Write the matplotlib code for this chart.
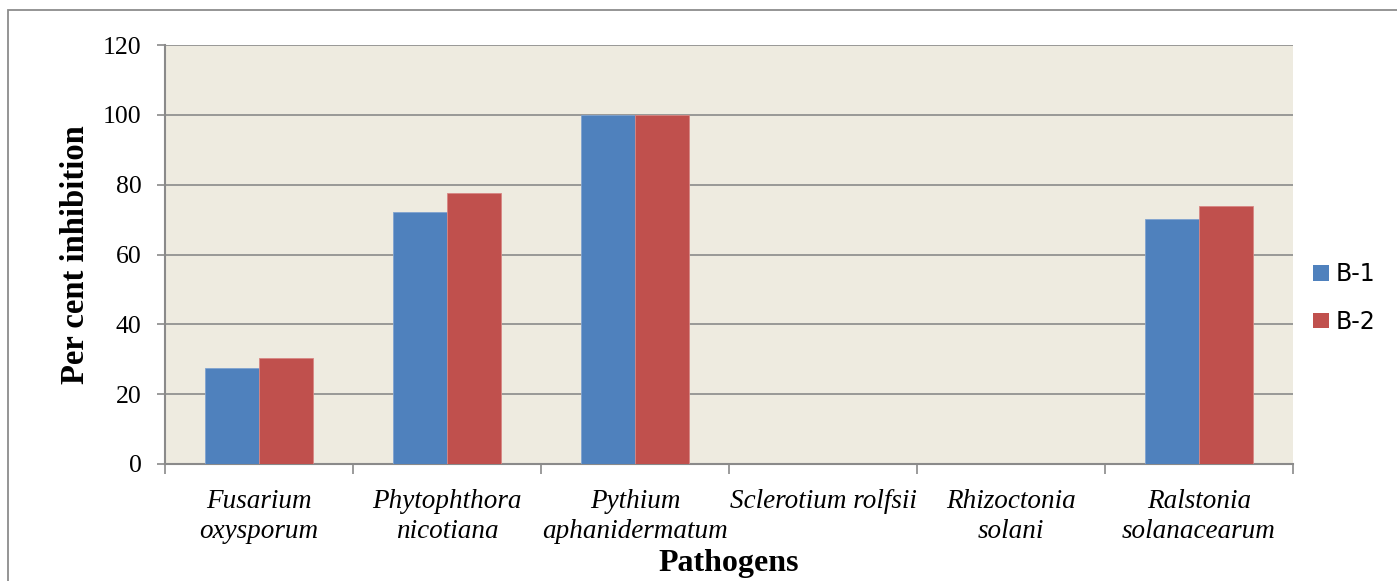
#!/usr/bin/env python3
# -*- coding: utf-8 -*-
import matplotlib
matplotlib.use('Agg')
import matplotlib.pyplot as plt
import numpy as np
from matplotlib.patches import Rectangle

# percent inhibition of pathogens by the two isolates
pathogens = ['Fusarium\noxysporum', 'Phytophthora\nnicotiana', 'Pythium\naphanidermatum',
             'Sclerotium rolfsii', 'Rhizoctonia\nsolani', 'Ralstonia\nsolanacearum']
b1 = [27.6, 72.1, 100, 0, 0, 70.2]
b2 = [30.5, 77.6, 100, 0, 0, 73.9]
series = ['B-1', 'B-2']
yticks = [0, 20, 40, 60, 80, 100, 120]

serif = 'Liberation Serif'
grid_col = '#8a8a8a'

fig = plt.figure(figsize=(13.97, 5.81), dpi=100)
fig.patch.set_facecolor('white')
# chart frame, running off the right and bottom edges
fig.patches.append(Rectangle((8 / 1397, -0.05), 1.1, 1 - 9.5 / 581 + 0.05, transform=fig.transFigure,
                             fill=False, edgecolor='#8c8c8c', linewidth=1.3, zorder=0))

ax = fig.add_axes([165 / 1397, 1 - 464 / 581, (1293 - 165) / 1397, (464 - 45) / 581])
ax.set_facecolor('#eeebe0')

x = np.arange(len(pathogens))
w = 1 / 3.5
ax.bar(x - w / 2, b1, w, color='#4f81bd', edgecolor='#7fa3d0', linewidth=0.6, label=series[0], zorder=3)
ax.bar(x + w / 2, b2, w, color='#c0504d', edgecolor='#d88683', linewidth=0.6, label=series[1], zorder=3)

ax.set_xlim(-0.5, len(pathogens) - 0.5)
ax.set_ylim(0, 120)
ax.set_yticks(yticks)
ax.set_yticklabels([str(t) for t in yticks], fontfamily=serif, fontsize=18.5)
ax.yaxis.grid(True, color=grid_col, linewidth=1.2, zorder=1)
ax.set_axisbelow(True)
ax.tick_params(axis='y', direction='out', length=6, width=1.2, color=grid_col, pad=11)

# category boundaries as ticks, names as minor labels
ax.set_xticks(np.arange(len(pathogens) + 1) - 0.5)
ax.set_xticklabels([])
ax.set_xticks(x, minor=True)
ax.set_xticklabels(pathogens, minor=True, fontfamily=serif, fontsize=19.5, style='italic',
                   linespacing=1.25, va='top')
ax.tick_params(axis='x', which='major', direction='out', length=7, width=1.2, color=grid_col)
ax.tick_params(axis='x', which='minor', length=0, pad=18)

for s in ['top', 'right']:
    ax.spines[s].set_visible(False)
for s in ['left', 'bottom']:
    ax.spines[s].set_color(grid_col)
    ax.spines[s].set_linewidth(1.5)

fig.text(75 / 1397, 1 - 255 / 581, 'Per cent inhibition', rotation=90, ha='center', va='center',
         fontfamily=serif, fontsize=23.5, fontweight='bold')
fig.text(729 / 1397, 1 - 564 / 581, 'Pathogens', ha='center', va='center',
         fontfamily=serif, fontsize=23, fontweight='bold')

leg = fig.legend(loc='center left', bbox_to_anchor=(1292 / 1397, 1 - 298 / 581), frameon=False,
                 fontsize=17, handlelength=0.65, handleheight=0.65, handletextpad=0.3, labelspacing=1.0)
for h in leg.legend_handles:
    h.set_edgecolor('none')

fig.savefig('out.png', dpi=100)
